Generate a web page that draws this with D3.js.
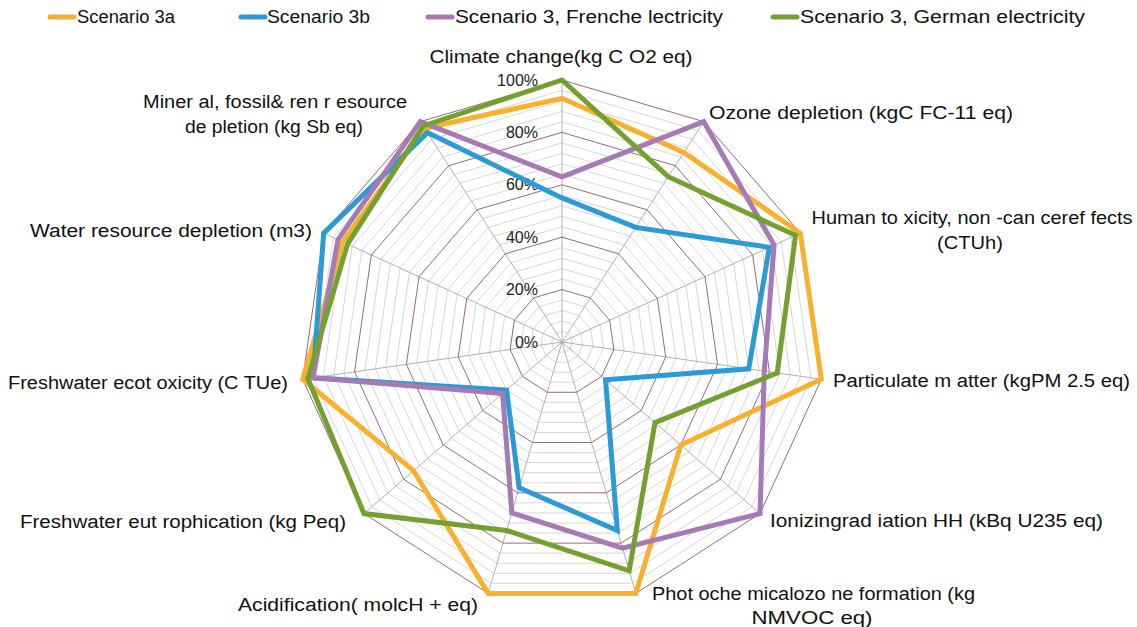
<!DOCTYPE html>
<html>
<head>
<meta charset="utf-8">
<script src="https://cdn.jsdelivr.net/npm/d3@7"></script>
<style>
  html, body { margin: 0; padding: 0; background: #ffffff; }
  svg { display: block; font-family: "Liberation Sans", Arial, sans-serif; }
</style>
</head>
<body>
<svg id="chart" width="1137" height="627"></svg>
<script>
// ---------- DATA ----------
const categories = [
  "Climate change",
  "Ozone depletion",
  "Human toxicity, non-cancer effects",
  "Particulate matter",
  "Ionizing radiation HH",
  "Photochemical ozone formation",
  "Acidification",
  "Freshwater eutrophication",
  "Freshwater ecotoxicity",
  "Water resource depletion",
  "Mineral, fossil & ren resource depletion"
];
const categoryLabels = [
  ["Climate  change(kg C  O2 eq)"],
  ["Ozone  depletion  (kgC FC-11  eq)"],
  ["Human to xicity, non -can ceref fects", "(CTUh)"],
  ["Particulate m atter (kgPM  2.5 eq)"],
  ["Ionizingrad iation HH (kBq U235 eq)"],
  ["Phot oche micalozo  ne formation  (kg", "NMVOC eq)"],
  ["Acidification( molcH + eq)"],
  ["Freshwater eut rophication (kg  Peq)"],
  ["Freshwater ecot oxicity (C TUe)"],
  ["Water resource depletion (m3)"],
  ["Miner al, fossil&  ren r esource", "de pletion  (kg Sb eq)"]
];
const seriesNames = [
  "Scenario 3a",
  "Scenario 3b",
  "Scenario 3, Frenche lectricity",
  "Scenario 3, German electricity"
];
const scenario3a     = [0.93, 0.86, 1.00, 1.00, 0.60, 1.00, 1.00, 0.75, 1.00, 0.92, 0.97];
const scenario3b     = [0.55, 0.52, 0.87, 0.72, 0.22, 0.75, 0.58, 0.28, 0.96, 1.00, 0.95];
const scenarioFrench = [0.63, 1.00, 0.89, 0.78, 1.00, 0.82, 0.68, 0.30, 0.96, 0.94, 1.00];
const scenarioGerman = [1.00, 0.75, 0.98, 0.83, 0.47, 0.91, 0.75, 1.00, 0.98, 0.90, 0.98];
const tickValues = [0, 0.2, 0.4, 0.6, 0.8, 1.0];
const tickLabels = ["0%", "20%", "40%", "60%", "80%", "100%"];

// ---------- LAYOUT / STYLE ----------
const colors = ["#F7B12F", "#2C9AD4", "#A67BB5", "#74A032"];
const W = 1137, H = 627;
const cx = 562, cy = 342, R = 262;

// label layout: one entry per line: x, y, text-anchor, width
const labelLayout = [
  [{x: 561, y: 57, a: "middle", w: 263}],
  [{x: 709, y: 113, a: "start", w: 304}],
  [{x: 972, y: 218, a: "middle", w: 321}, {x: 970, y: 243, a: "middle", w: 66}],
  [{x: 833, y: 381, a: "start", w: 297}],
  [{x: 770, y: 521, a: "start", w: 333}],
  [{x: 652, y: 594, a: "start", w: 323}, {x: 812, y: 618, a: "middle", w: 121}],
  [{x: 478, y: 605, a: "end", w: 240}],
  [{x: 346, y: 522, a: "end", w: 326}],
  [{x: 288, y: 383, a: "end", w: 280}],
  [{x: 312, y: 231, a: "end", w: 282}],
  [{x: 275, y: 102, a: "middle", w: 264}, {x: 274, y: 127, a: "middle", w: 178}]
];

const legendLayout = [
  {sx: 47, tx: 77, w: 98},
  {sx: 238, tx: 267, w: 103},
  {sx: 425, tx: 455, w: 268},
  {sx: 770, tx: 800, w: 285}
];

const svg = d3.select("#chart");
const n = categories.length;
const angle = d3.scaleLinear().domain([0, n]).range([0, 2 * Math.PI]);
const r = d3.scaleLinear().domain([0, 1]).range([0, R]);

const g = svg.append("g").attr("transform", `translate(${cx},${cy})`);

// grid rings (minor every 4%, major every 20%)
const ringLevels = d3.range(1, 26).map(k => k * 0.04);
const ringLine = d3.lineRadial()
  .angle((d, i) => angle(i))
  .radius(d => r(d))
  .curve(d3.curveLinearClosed);

g.selectAll("path.minor")
  .data(ringLevels.filter((v, k) => (k + 1) % 5 !== 0))
  .join("path")
  .attr("class", "minor")
  .attr("d", lv => ringLine(d3.range(n).map(() => lv)))
  .attr("fill", "none")
  .attr("stroke", "#d6d6d6")
  .attr("stroke-width", 1);

// spokes
g.selectAll("line.spoke")
  .data(d3.range(n))
  .join("line")
  .attr("class", "spoke")
  .attr("x1", 0).attr("y1", 0)
  .attr("x2", i => r(1) * Math.sin(angle(i)))
  .attr("y2", i => -r(1) * Math.cos(angle(i)))
  .attr("stroke", "#b0b0b0")
  .attr("stroke-width", 1);

g.selectAll("path.major")
  .data(ringLevels.filter((v, k) => (k + 1) % 5 === 0))
  .join("path")
  .attr("class", "major")
  .attr("d", lv => ringLine(d3.range(n).map(() => lv)))
  .attr("fill", "none")
  .attr("stroke", "#94697c")
  .attr("stroke-width", 1);

// tick labels
g.selectAll("text.tick")
  .data(tickValues)
  .join("text")
  .attr("class", "tick")
  .attr("x", -24)
  .attr("y", d => -r(d))
  .attr("dy", "0.35em")
  .attr("text-anchor", "end")
  .attr("font-size", 16)
  .attr("fill", "#222")
  .text((d, i) => tickLabels[i]);

// series
const allSeries = [scenario3a, scenario3b, scenarioFrench, scenarioGerman];
const seriesLine = d3.lineRadial()
  .angle((d, i) => angle(i))
  .radius(d => r(d))
  .curve(d3.curveLinearClosed);

g.selectAll("path.series")
  .data(allSeries)
  .join("path")
  .attr("class", "series")
  .attr("d", d => seriesLine(d))
  .attr("fill", "none")
  .attr("stroke", (d, i) => colors[i])
  .attr("stroke-width", 5)
  .attr("stroke-linejoin", "miter");

// category labels
categoryLabels.forEach((lines, i) => {
  lines.forEach((t, j) => {
    const L = labelLayout[i][j];
    svg.append("text")
      .attr("x", L.x)
      .attr("y", L.y)
      .attr("dy", "0.35em")
      .attr("text-anchor", L.a)
      .attr("font-size", 18)
      .attr("fill", "#111")
      .attr("textLength", L.w)
      .attr("lengthAdjust", "spacingAndGlyphs")
      .text(t);
  });
});

// legend
const legend = svg.append("g");
seriesNames.forEach((name, i) => {
  const L = legendLayout[i];
  legend.append("line")
    .attr("x1", L.sx + 3).attr("x2", L.sx + 27)
    .attr("y1", 17).attr("y2", 17)
    .attr("stroke", colors[i])
    .attr("stroke-width", 5)
    .attr("stroke-linecap", "round");
  legend.append("text")
    .attr("x", L.tx)
    .attr("y", 17)
    .attr("dy", "0.35em")
    .attr("font-size", 18)
    .attr("fill", "#111")
    .attr("textLength", L.w)
    .attr("lengthAdjust", "spacingAndGlyphs")
    .text(name);
});
</script>
</body>
</html>
